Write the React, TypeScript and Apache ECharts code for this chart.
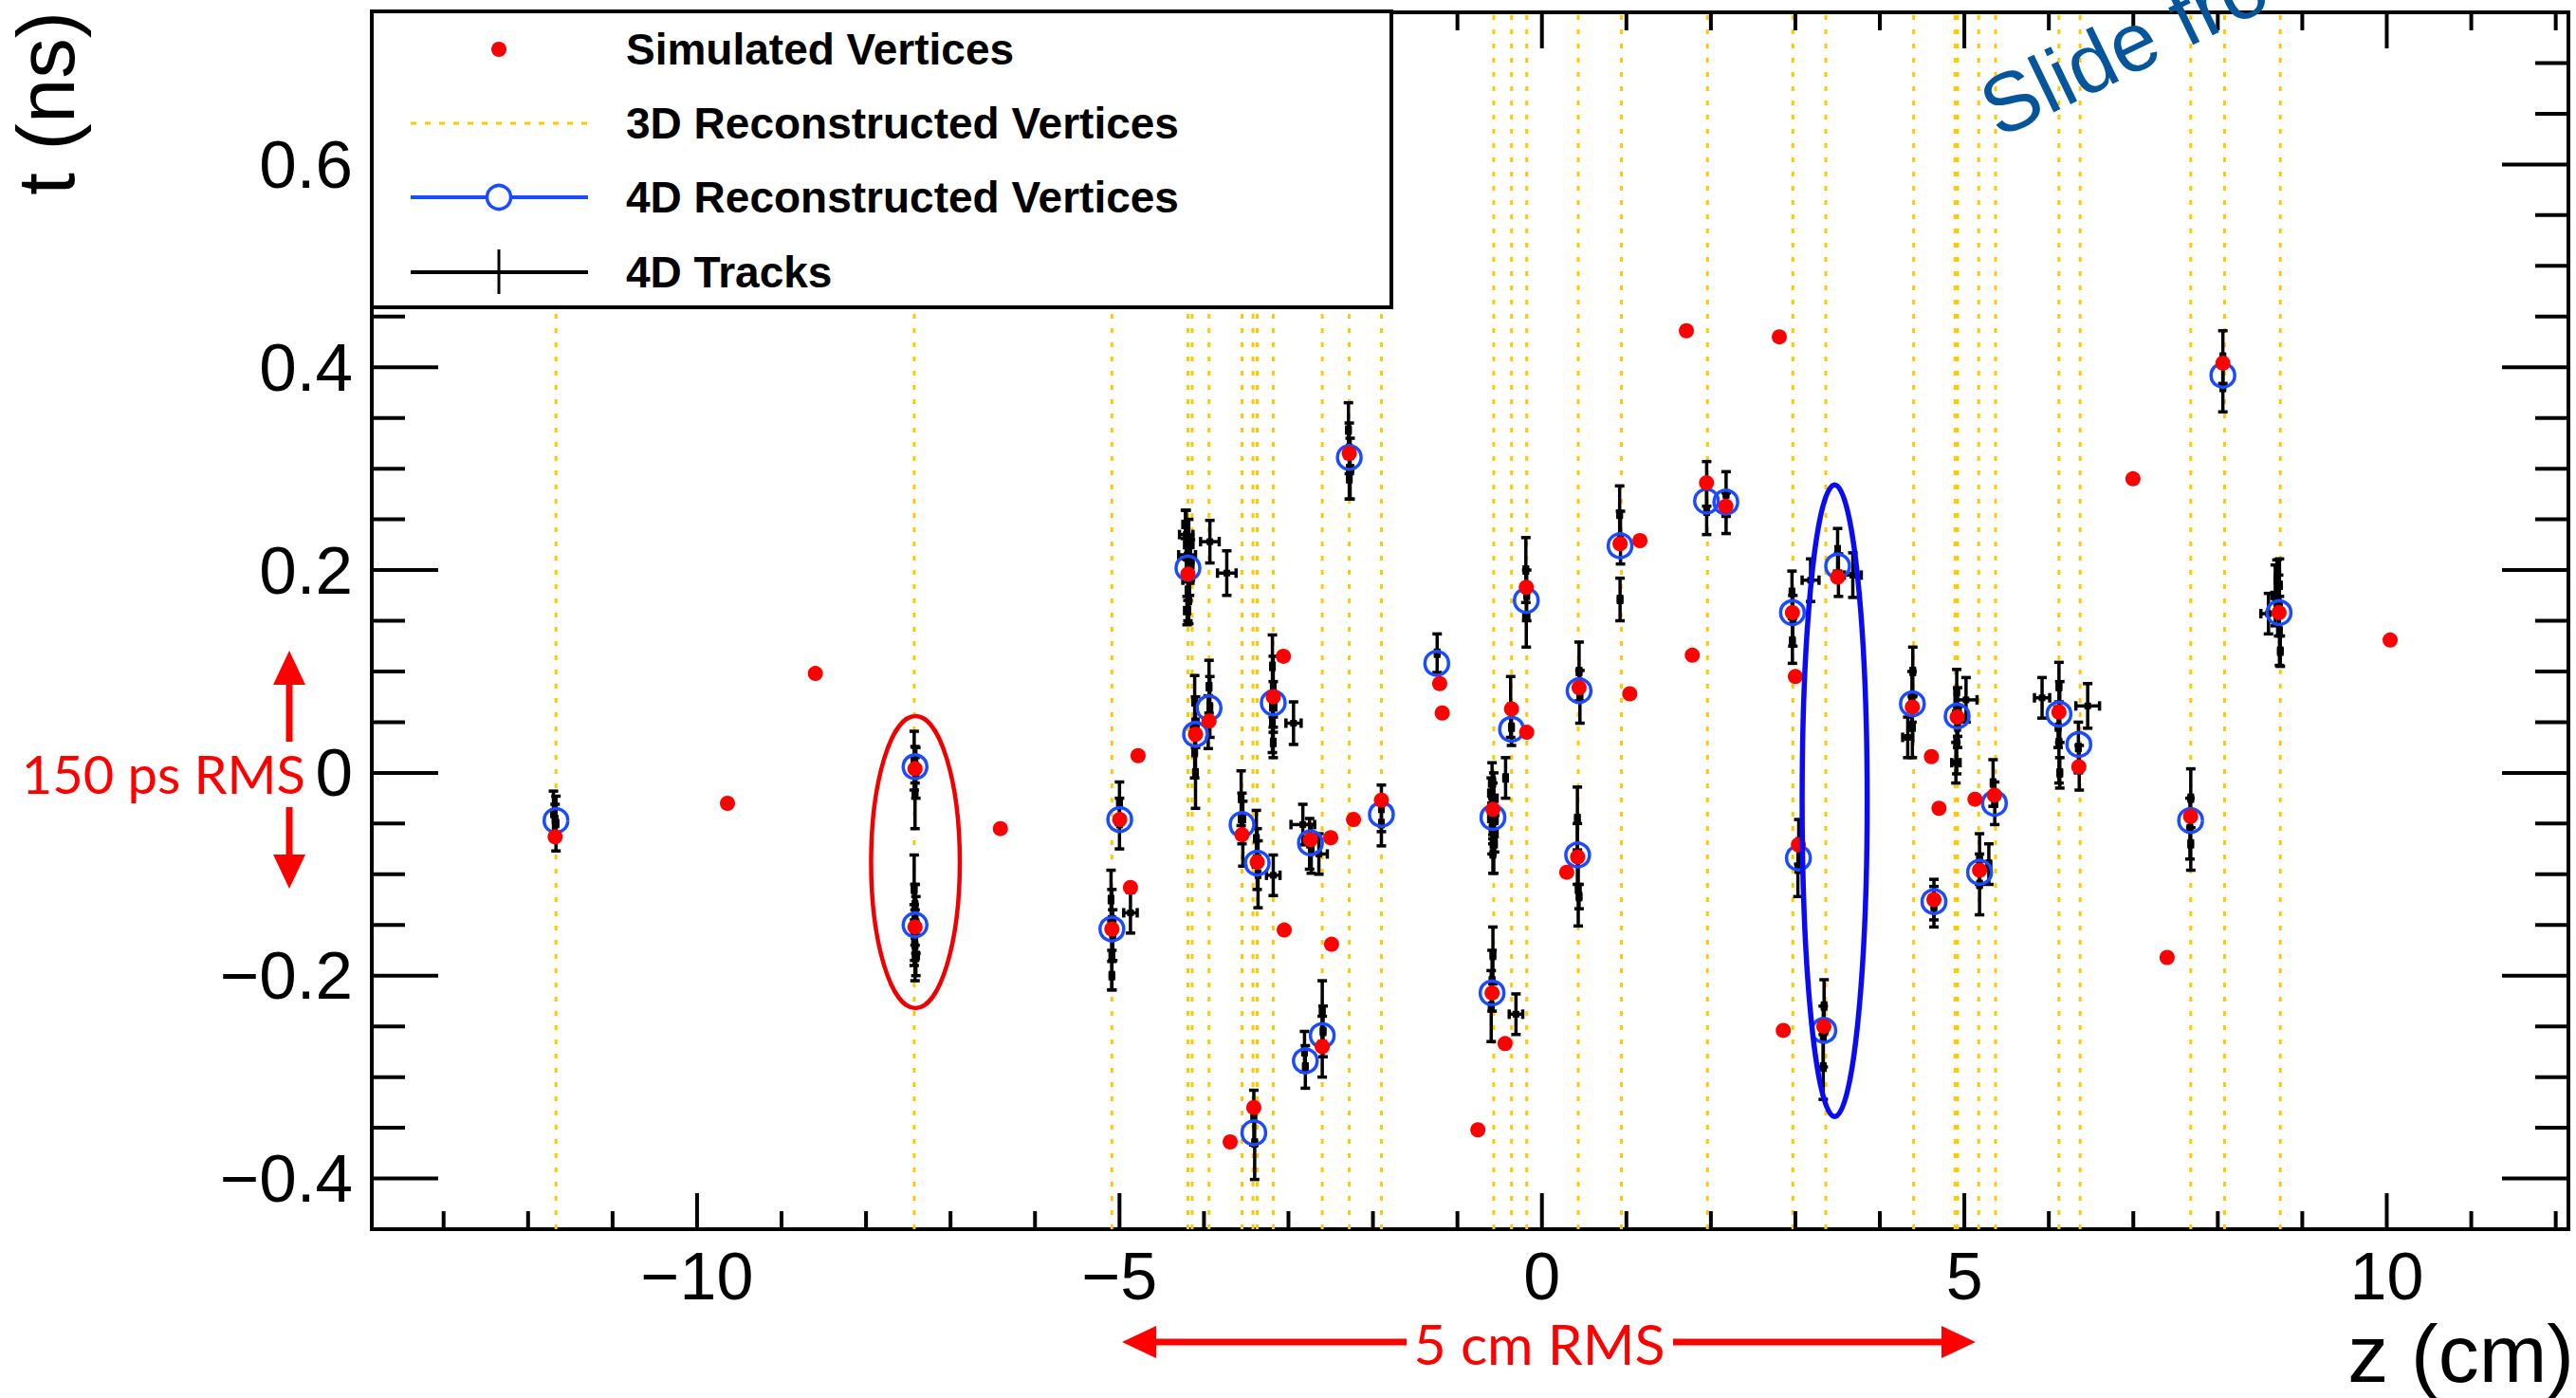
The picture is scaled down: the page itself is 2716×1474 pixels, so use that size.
import React, { useEffect, useRef } from "react";
import * as echarts from "echarts";

// ---------- axis ranges & ticks ----------
const Z_MIN = -13.85;
const Z_MAX = 12.15;
const T_MIN = -0.45;
const T_MAX = 0.75;

const xMajorTicks = [-10, -5, 0, 5, 10];
const xTickLabels = ["\u221210", "\u22125", "0", "5", "10"];
const xMinorTicks = [-13, -12, -11, -9, -8, -7, -6, -4, -3, -2, -1, 1, 2, 3, 4, 6, 7, 8, 9, 11, 12];
const yMajorTicks = [-0.4, -0.2, 0, 0.2, 0.4, 0.6];
const yTickLabels = ["\u22120.4", "\u22120.2", "0", "0.2", "0.4", "0.6"];
const yMinorTicks = [-0.35, -0.3, -0.25, -0.15, -0.1, -0.05, 0.05, 0.1, 0.15, 0.25, 0.3, 0.35, 0.45, 0.5, 0.55, 0.65, 0.7];

const legendLabels = ["Simulated Vertices", "3D Reconstructed Vertices", "4D Reconstructed Vertices", "4D Tracks"];

// ---------- data ----------
// simulated vertices [z (cm), t (ns)]
const simulatedVertices = [
  [-11.68, -0.063], [-9.64, -0.03], [-8.6, 0.098], [-7.42, 0.004], [-7.42, -0.152], [-6.41, -0.055],
  [-5.09, -0.154], [-4.997, -0.046], [-4.78, 0.017], [-4.87, -0.113], [-4.19, 0.196], [-4.1, 0.038],
  [-3.94, 0.051], [-3.69, -0.364], [-3.55, -0.061], [-3.41, -0.33], [-3.37, -0.088], [-3.18, 0.075],
  [-3.06, 0.115], [-3.05, -0.155], [-2.74, -0.066], [-2.5, -0.064], [-2.49, -0.169], [-2.6, -0.27],
  [-2.28, 0.315], [-2.23, -0.046], [-1.9, -0.027], [-1.21, 0.088], [-1.18, 0.059], [-0.758, -0.352],
  [-0.58, -0.036], [-0.59, -0.217], [-0.436, -0.267], [-0.36, 0.063], [-0.18, 0.04], [-0.185, 0.183],
  [0.294, -0.098], [0.423, -0.083], [0.44, 0.084], [0.925, 0.226], [1.16, 0.229], [1.04, 0.078],
  [1.71, 0.436], [1.78, 0.116], [1.948, 0.286], [2.177, 0.263], [2.81, 0.43], [2.857, -0.254],
  [2.965, 0.158], [3.0, 0.095], [3.036, -0.071], [3.337, -0.25], [3.5, 0.193], [4.385, 0.065],
  [4.61, 0.016], [4.64, -0.125], [4.7, -0.035], [4.915, 0.055], [5.126, -0.026], [5.18, -0.096],
  [5.356, -0.022], [6.12, 0.06], [6.355, 0.006], [6.996, 0.29], [7.4, -0.182], [7.678, -0.043],
  [8.06, 0.404], [8.725, 0.158], [10.04, 0.131],
];

// 3D reconstructed vertices: z only (cm)
const reco3DVertexZ = [
  -11.67, -7.43, -5.09, -4.19, -4.14, -3.94, -3.55, -3.42, -3.37, -3.18, -2.6, -2.28, -1.9,
  -0.57, -0.36, -0.18, 0.43, 0.94, 1.96, 2.97, 3.36, 4.4, 4.89, 4.92, 5.17, 5.37, 6.12, 6.37,
  7.68, 8.08, 8.74,
];

// 4D reconstructed vertices [z, t]
const reco4DVertices = [
  [-11.67, -0.047], [-7.42, 0.006], [-7.42, -0.15], [-5.09, -0.154], [-4.997, -0.046], [-4.19, 0.202],
  [-4.1, 0.038], [-3.94, 0.064], [-3.55, -0.051], [-3.37, -0.089], [-3.41, -0.355], [-3.18, 0.069],
  [-2.74, -0.069], [-2.8, -0.284], [-2.6, -0.259], [-2.28, 0.311], [-1.9, -0.041], [-1.245, 0.108],
  [-0.59, -0.217], [-0.58, -0.044], [-0.36, 0.043], [-0.185, 0.17], [0.44, 0.081], [0.423, -0.081],
  [0.925, 0.224], [1.948, 0.268], [2.177, 0.267], [2.965, 0.158], [3.036, -0.084], [3.337, -0.254],
  [3.5, 0.204], [4.385, 0.068], [4.64, -0.127], [4.915, 0.056], [5.18, -0.098], [5.356, -0.03],
  [6.12, 0.058], [6.355, 0.028], [7.678, -0.047], [8.06, 0.392], [8.725, 0.158],
];

// 4D tracks [z, t, zErr, tErr]
const tracks4D = [
  [-11.7, -0.04, 0.02, 0.022], [-11.67, -0.05, 0.02, 0.027], [-11.68, -0.046, 0.02, 0.015],
  [-7.43, 0.012, 0.02, 0.029], [-7.41, 0.0, 0.02, 0.025], [-7.42, -0.02, 0.02, 0.035], [-7.42, 0.008, 0.02, 0.018],
  [-7.43, -0.115, 0.02, 0.034], [-7.42, -0.14, 0.02, 0.03], [-7.41, -0.15, 0.025, 0.028], [-7.43, -0.16, 0.02, 0.03],
  [-7.42, -0.17, 0.02, 0.035], [-7.41, -0.18, 0.03, 0.02], [-7.42, -0.13, 0.02, 0.02], [-7.425, -0.165, 0.02, 0.02],
  [-5.1, -0.125, 0.02, 0.029], [-5.09, -0.145, 0.03, 0.03], [-5.08, -0.16, 0.02, 0.025], [-5.09, -0.18, 0.02, 0.034],
  [-5.09, -0.2, 0.02, 0.014], [-4.87, -0.138, 0.08, 0.02],
  [-5.0, -0.03, 0.02, 0.021], [-5.0, -0.05, 0.02, 0.025],
  [-4.21, 0.235, 0.08, 0.024], [-4.18, 0.225, 0.05, 0.025], [-4.2, 0.215, 0.1, 0.02], [-4.17, 0.205, 0.04, 0.03],
  [-4.19, 0.19, 0.06, 0.02], [-4.19, 0.18, 0.02, 0.03], [-4.18, 0.17, 0.02, 0.023],
  [-4.22, 0.245, 0.03, 0.014], [-4.2, 0.16, 0.03, 0.014], [-4.16, 0.21, 0.03, 0.02],
  [-3.93, 0.228, 0.11, 0.021], [-3.73, 0.197, 0.11, 0.022],
  [-4.11, 0.07, 0.02, 0.026], [-4.1, 0.05, 0.03, 0.025], [-4.11, 0.02, 0.02, 0.025], [-4.1, 0.0, 0.02, 0.035],
  [-3.94, 0.085, 0.02, 0.026], [-3.93, 0.065, 0.02, 0.03], [-3.95, 0.05, 0.02, 0.026],
  [-3.56, -0.025, 0.02, 0.027], [-3.55, -0.045, 0.03, 0.025], [-3.54, -0.06, 0.02, 0.032],
  [-3.38, -0.065, 0.02, 0.028], [-3.37, -0.085, 0.03, 0.03], [-3.36, -0.1, 0.02, 0.033], [-3.18, -0.101, 0.08, 0.02],
  [-3.19, 0.105, 0.02, 0.031], [-3.18, 0.085, 0.02, 0.03], [-3.18, 0.065, 0.03, 0.025], [-3.19, 0.05, 0.02, 0.03],
  [-3.18, 0.03, 0.02, 0.015], [-2.94, 0.049, 0.09, 0.021],
  [-2.75, -0.07, 0.02, 0.025], [-2.73, -0.075, 0.02, 0.024], [-2.83, -0.051, 0.14, 0.02], [-2.64, -0.08, 0.1, 0.02],
  [-2.6, -0.235, 0.02, 0.03], [-2.59, -0.255, 0.02, 0.025], [-2.6, -0.27, 0.02, 0.03],
  [-2.81, -0.275, 0.02, 0.02], [-2.8, -0.29, 0.02, 0.021],
  [-3.41, -0.34, 0.02, 0.027], [-3.4, -0.365, 0.02, 0.036],
  [-2.29, 0.338, 0.02, 0.027], [-2.28, 0.32, 0.02, 0.025], [-2.27, 0.3, 0.03, 0.03], [-2.28, 0.29, 0.02, 0.02],
  [-1.9, -0.035, 0.02, 0.023], [-1.9, -0.05, 0.02, 0.022],
  [-1.24, 0.118, 0.02, 0.019],
  [-0.59, -0.01, 0.03, 0.02], [-0.57, -0.025, 0.04, 0.025], [-0.58, -0.04, 0.03, 0.03], [-0.59, -0.055, 0.02, 0.025],
  [-0.57, -0.07, 0.03, 0.029], [-0.58, -0.045, 0.05, 0.02], [-0.43, -0.005, 0.02, 0.02],
  [-0.6, -0.02, 0.03, 0.015], [-0.56, -0.06, 0.03, 0.018], [-0.58, -0.08, 0.02, 0.019],
  [-0.58, -0.18, 0.02, 0.028], [-0.59, -0.205, 0.02, 0.03], [-0.6, -0.23, 0.02, 0.035], [-0.307, -0.238, 0.08, 0.02],
  [-0.37, 0.065, 0.02, 0.03], [-0.36, 0.045, 0.02, 0.018],
  [-0.19, 0.2, 0.02, 0.032], [-0.18, 0.175, 0.02, 0.025], [-0.185, 0.155, 0.03, 0.031],
  [0.44, 0.1, 0.02, 0.029], [0.45, 0.075, 0.02, 0.026],
  [0.42, -0.045, 0.02, 0.031], [0.42, -0.08, 0.02, 0.03], [0.43, -0.115, 0.02, 0.036], [0.44, -0.122, 0.02, 0.012],
  [0.92, 0.255, 0.02, 0.028], [0.93, 0.232, 0.02, 0.026], [0.925, 0.171, 0.02, 0.021],
  [1.95, 0.285, 0.02, 0.022], [1.95, 0.258, 0.02, 0.023],
  [2.18, 0.275, 0.02, 0.022], [2.18, 0.256, 0.02, 0.02],
  [2.96, 0.178, 0.02, 0.021], [2.97, 0.15, 0.02, 0.025], [2.965, 0.13, 0.02, 0.022], [3.18, 0.19, 0.1, 0.021],
  [3.5, 0.22, 0.02, 0.021], [3.51, 0.195, 0.02, 0.021], [3.68, 0.195, 0.1, 0.022],
  [3.04, -0.068, 0.02, 0.022], [3.03, -0.095, 0.02, 0.027],
  [3.34, -0.23, 0.02, 0.026], [3.33, -0.26, 0.02, 0.03], [3.33, -0.29, 0.02, 0.032],
  [4.39, 0.1, 0.02, 0.024], [4.38, 0.075, 0.02, 0.025], [4.385, 0.045, 0.02, 0.03], [4.33, 0.035, 0.06, 0.02],
  [4.91, 0.08, 0.02, 0.022], [4.92, 0.06, 0.03, 0.024], [4.91, 0.03, 0.02, 0.031], [5.02, 0.072, 0.13, 0.022],
  [4.9, 0.01, 0.05, 0.02], [4.92, 0.045, 0.02, 0.02],
  [5.34, -0.01, 0.02, 0.023], [5.36, -0.03, 0.02, 0.021],
  [5.18, -0.085, 0.02, 0.025], [5.18, -0.11, 0.02, 0.03], [5.29, -0.09, 0.02, 0.02],
  [4.64, -0.125, 0.02, 0.02], [4.64, -0.132, 0.02, 0.02],
  [6.12, 0.085, 0.02, 0.024], [6.13, 0.06, 0.03, 0.03], [6.12, 0.03, 0.02, 0.04], [5.92, 0.074, 0.09, 0.02],
  [6.46, 0.066, 0.14, 0.022], [6.11, 0.045, 0.02, 0.02], [6.13, 0.0, 0.02, 0.015],
  [6.35, 0.025, 0.02, 0.025], [6.36, 0.005, 0.02, 0.022],
  [7.68, -0.025, 0.02, 0.029], [7.67, -0.055, 0.02, 0.03], [7.68, -0.07, 0.02, 0.026],
  [8.06, 0.41, 0.02, 0.026], [8.06, 0.38, 0.02, 0.024],
  [8.73, 0.185, 0.02, 0.026], [8.72, 0.165, 0.03, 0.03], [8.73, 0.14, 0.02, 0.034], [8.6, 0.157, 0.09, 0.02],
  [8.68, 0.175, 0.04, 0.03], [8.74, 0.12, 0.02, 0.015], [8.7, 0.19, 0.02, 0.02],
];

// highlight ellipses [zCenter, tCenter, zRadius, tRadius]
const redEllipse = [-7.415, -0.088, 0.525, 0.144];
const blueEllipse = [3.465, -0.0275, 0.385, 0.3115];

// ---------- styles ----------
const RED = "#ff0000";
const BLUE = "#1a4bff";
const YELLOW = "#ffc800";
const HELV = "'Liberation Sans', Arial, Helvetica, sans-serif";
const GILL = "Lato, 'Open Sans', sans-serif";

const tickStyle = { stroke: "#000", lineWidth: 4 };

function xTickSeries(values: number[], len: number, labels: string[] | null) {
  return {
    type: "custom",
    z: 6,
    silent: true,
    clip: false,
    data: values.map((v, i) => [v, 0, i]),
    renderItem: (params: any, api: any) => {
      const cs = params.coordSys;
      const x = api.coord([api.value(0), 0])[0];
      const bottom = cs.y + cs.height;
      const children: any[] = [
        { type: "line", shape: { x1: x, y1: bottom, x2: x, y2: bottom - len }, style: tickStyle },
        { type: "line", shape: { x1: x, y1: cs.y, x2: x, y2: cs.y + len }, style: tickStyle },
      ];
      if (labels) {
        children.push({
          type: "text",
          x,
          y: bottom + 50,
          style: {
            text: labels[api.value(2)],
            fill: "#000",
            fontSize: 70,
            fontFamily: HELV,
            align: "center",
            verticalAlign: "middle",
          },
        });
      }
      return { type: "group", children };
    },
  };
}

function yTickSeries(values: number[], len: number, labels: string[] | null) {
  return {
    type: "custom",
    z: 6,
    silent: true,
    clip: false,
    data: values.map((v, i) => [0, v, i]),
    renderItem: (params: any, api: any) => {
      const cs = params.coordSys;
      const y = api.coord([0, api.value(1)])[1];
      const right = cs.x + cs.width;
      const children: any[] = [
        { type: "line", shape: { x1: cs.x, y1: y, x2: cs.x + len, y2: y }, style: tickStyle },
        { type: "line", shape: { x1: right, y1: y, x2: right - len, y2: y }, style: tickStyle },
      ];
      if (labels) {
        children.push({
          type: "text",
          x: cs.x - 20,
          y,
          style: {
            text: labels[api.value(2)],
            fill: "#000",
            fontSize: 71,
            fontFamily: HELV,
            align: "right",
            verticalAlign: "middle",
          },
        });
      }
      return { type: "group", children };
    },
  };
}

function buildOption() {
  const trackLine = (x1: number, y1: number, x2: number, y2: number) => ({
    type: "line",
    shape: { x1, y1, x2, y2 },
    style: { stroke: "#000", lineWidth: 3.5 },
  });

  const series: any[] = [
    // 3D reconstructed vertices : dotted vertical lines
    {
      type: "custom",
      z: 1,
      silent: true,
      data: reco3DVertexZ.map((z) => [z, 0]),
      renderItem: (params: any, api: any) => {
        const cs = params.coordSys;
        const x = api.coord([api.value(0), 0])[0];
        return {
          type: "line",
          shape: { x1: x, y1: cs.y + 3, x2: x, y2: cs.y + cs.height },
          style: { stroke: YELLOW, lineWidth: 3, lineDash: [5, 10] },
        };
      },
    },
    // 4D tracks with error bars
    {
      type: "custom",
      z: 2,
      silent: true,
      data: tracks4D,
      renderItem: (params: any, api: any) => {
        const z = api.value(0);
        const t = api.value(1);
        const ez = api.value(2);
        const et = api.value(3);
        const c = api.coord([z, t]);
        const top = api.coord([z, t + et])[1];
        const bot = api.coord([z, t - et])[1];
        const left = api.coord([z - ez, t])[0];
        const right = api.coord([z + ez, t])[0];
        const cap = 5;
        return {
          type: "group",
          children: [
            trackLine(c[0], top, c[0], bot),
            trackLine(left, c[1], right, c[1]),
            trackLine(c[0] - cap, top, c[0] + cap, top),
            trackLine(c[0] - cap, bot, c[0] + cap, bot),
            trackLine(left, c[1] - cap, left, c[1] + cap),
            trackLine(right, c[1] - cap, right, c[1] + cap),
            { type: "rect", shape: { x: c[0] - 3.5, y: c[1] - 3.5, width: 7, height: 7 }, style: { fill: "#000" } },
          ],
        };
      },
    },
    // 4D reconstructed vertices
    {
      type: "scatter",
      name: legendLabels[2],
      z: 3,
      symbol: "circle",
      symbolSize: 25,
      itemStyle: { color: "rgba(0,0,0,0)", borderColor: BLUE, borderWidth: 3.5, opacity: 1 },
      data: reco4DVertices,
    },
    // simulated vertices
    {
      type: "scatter",
      name: legendLabels[0],
      z: 4,
      symbol: "circle",
      symbolSize: 16,
      itemStyle: { color: RED, opacity: 1 },
      data: simulatedVertices,
    },
    // ellipses
    {
      type: "custom",
      z: 5,
      silent: true,
      clip: false,
      data: [
        [...redEllipse, 0],
        [...blueEllipse, 1],
      ],
      renderItem: (params: any, api: any) => {
        const c = api.coord([api.value(0), api.value(1)]);
        const s = api.size([api.value(2), api.value(3)]);
        const isBlue = api.value(4) === 1;
        return {
          type: "ellipse",
          shape: { cx: c[0], cy: c[1], rx: s[0], ry: s[1] },
          style: { fill: "none", stroke: isBlue ? "#0a0af5" : "#f00000", lineWidth: isBlue ? 5.5 : 4.5 },
        };
      },
    },
    xTickSeries(xMinorTicks, 19, null),
    xTickSeries(xMajorTicks, 38, xTickLabels),
    yTickSeries(yMinorTicks, 35, null),
    yTickSeries(yMajorTicks, 70, yTickLabels),
  ];

  const legendRows = [52, 130, 208, 287];
  const graphic: any[] = [
    // legend box
    {
      type: "rect",
      z: 100,
      shape: { x: 392, y: 12, width: 1075, height: 312 },
      style: { fill: "#fff", stroke: "#000", lineWidth: 4 },
    },
    { type: "circle", z: 101, shape: { cx: 526, cy: legendRows[0], r: 8 }, style: { fill: RED } },
    {
      type: "line",
      z: 101,
      shape: { x1: 433, y1: legendRows[1], x2: 620, y2: legendRows[1] },
      style: { stroke: YELLOW, lineWidth: 3, lineDash: [6, 9] },
    },
    {
      type: "line",
      z: 101,
      shape: { x1: 433, y1: legendRows[2], x2: 620, y2: legendRows[2] },
      style: { stroke: BLUE, lineWidth: 4 },
    },
    {
      type: "circle",
      z: 102,
      shape: { cx: 526, cy: legendRows[2], r: 12.5 },
      style: { fill: "#fff", stroke: BLUE, lineWidth: 3.5 },
    },
    {
      type: "line",
      z: 101,
      shape: { x1: 433, y1: legendRows[3], x2: 620, y2: legendRows[3] },
      style: { stroke: "#000", lineWidth: 4 },
    },
    {
      type: "line",
      z: 101,
      shape: { x1: 526, y1: 263, x2: 526, y2: 310 },
      style: { stroke: "#000", lineWidth: 3 },
    },
    ...legendLabels.map((label, i) => ({
      type: "text",
      z: 101,
      x: 660,
      y: legendRows[i],
      style: {
        text: label,
        fill: "#000",
        fontSize: 46,
        fontWeight: "bold",
        fontFamily: HELV,
        align: "left",
        verticalAlign: "middle",
      },
    })),
    // axis titles
    {
      type: "text",
      z: 50,
      x: 48,
      y: 12,
      rotation: Math.PI / 2,
      style: {
        text: "t (ns)",
        fill: "#000",
        fontSize: 85,
        fontFamily: HELV,
        align: "right",
        verticalAlign: "middle",
      },
    },
    {
      type: "text",
      z: 50,
      x: 2714,
      y: 1427,
      style: {
        text: "z (cm)",
        fill: "#000",
        fontSize: 86,
        fontFamily: HELV,
        align: "right",
        verticalAlign: "middle",
      },
    },
    // red annotation: 150 ps RMS (vertical arrow)
    { type: "line", z: 50, shape: { x1: 305, y1: 718, x2: 305, y2: 782 }, style: { stroke: RED, lineWidth: 7 } },
    { type: "line", z: 50, shape: { x1: 305, y1: 851, x2: 305, y2: 905 }, style: { stroke: RED, lineWidth: 7 } },
    { type: "polygon", z: 50, shape: { points: [[305, 686], [288, 722], [322, 722]] }, style: { fill: RED } },
    { type: "polygon", z: 50, shape: { points: [[305, 937], [288, 901], [322, 901]] }, style: { fill: RED } },
    {
      type: "text",
      z: 50,
      x: 322,
      y: 815,
      style: { text: "150 ps RMS", fill: RED, fontSize: 56, fontFamily: GILL, align: "right", verticalAlign: "middle" },
    },
    // red annotation: 5 cm RMS (horizontal arrow)
    { type: "line", z: 50, shape: { x1: 1215, y1: 1415, x2: 1483, y2: 1415 }, style: { stroke: RED, lineWidth: 7 } },
    { type: "line", z: 50, shape: { x1: 1764, y1: 1415, x2: 2051, y2: 1415 }, style: { stroke: RED, lineWidth: 7 } },
    { type: "polygon", z: 50, shape: { points: [[1183, 1415], [1219, 1398], [1219, 1432]] }, style: { fill: RED } },
    { type: "polygon", z: 50, shape: { points: [[2083, 1415], [2047, 1398], [2047, 1432]] }, style: { fill: RED } },
    {
      type: "text",
      z: 50,
      x: 1623,
      y: 1416,
      style: { text: "5 cm RMS", fill: RED, fontSize: 59, fontFamily: GILL, align: "center", verticalAlign: "middle" },
    },
    // overlay stamp (cut off by the top edge, as in the source slide)
    {
      type: "text",
      z: 120,
      x: 2094,
      y: 119,
      rotation: 0.45,
      style: {
        text: "Slide fro",
        fill: "#04559b",
        fontSize: 88,
        fontFamily: HELV,
        align: "left",
        verticalAlign: "middle",
      },
    },
  ];

  return {
    animation: false,
    backgroundColor: "#fff",
    grid: {
      left: 392,
      top: 13,
      width: 2316,
      height: 1283,
      show: true,
      borderColor: "#000",
      borderWidth: 4,
      backgroundColor: "#fff",
    },
    xAxis: { type: "value", min: Z_MIN, max: Z_MAX, show: false },
    yAxis: { type: "value", min: T_MIN, max: T_MAX, show: false },
    series,
    graphic,
  };
}

export default function App() {
  const ref = useRef<HTMLDivElement>(null);
  useEffect(() => {
    document.body.style.margin = "0";
    if (!ref.current) return;
    const chart = echarts.init(ref.current, undefined, { renderer: "svg" });
    chart.setOption(buildOption() as any);
    return () => chart.dispose();
  }, []);
  return (
    <div
      ref={ref}
      style={{ position: "absolute", left: 0, top: 0, width: 2716, height: 1474, background: "#fff" }}
    />
  );
}
